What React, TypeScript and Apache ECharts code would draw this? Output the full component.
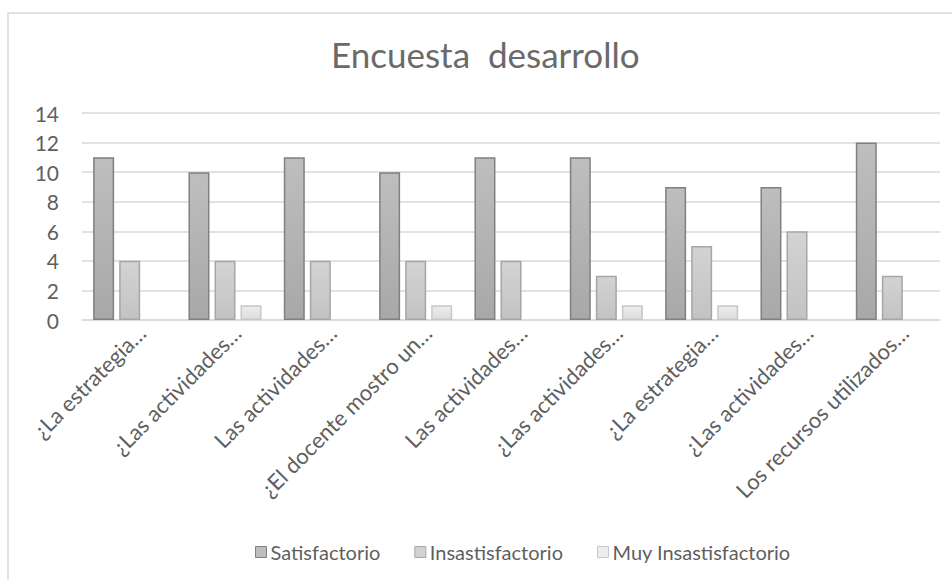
import React, { useEffect, useRef } from "react";
import * as echarts from "echarts";

const categories = [
  "¿La estrategia…",
  "¿Las actividades…",
  "Las actividades…",
  "¿El docente mostro un…",
  "Las actividades…",
  "¿Las actividades…",
  "¿La estrategia…",
  "¿Las actividades…",
  "Los recursos utilizados…",
];
const seriesNames = ["Satisfactorio", "Insastisfactorio", "Muy Insastisfactorio"];
const satisfactorio = [11, 10, 11, 10, 11, 11, 9, 9, 12];
const insatisfactorio = [4, 4, 4, 4, 4, 3, 5, 6, 3];
const muyInsatisfactorio: (number | null)[] = [null, 1, null, 1, null, 1, 1, null, null];
const yTicks = { min: 0, max: 14, interval: 2 };

const FONT = "Lato, 'Open Sans', sans-serif";
const TEXT = "#5f5f5f";

function grad(top: string, bottom: string) {
  return new echarts.graphic.LinearGradient(0, 0, 0, 1, [
    { offset: 0, color: top },
    { offset: 1, color: bottom },
  ]);
}

const styles = [
  { top: "#bebebe", bottom: "#a8a8a8", border: "#808080" },
  { top: "#d3d3d3", bottom: "#c3c3c3", border: "#a6a6a6" },
  { top: "#ececec", bottom: "#dedede", border: "#c8c8c8" },
];

export default function App() {
  const ref = useRef<HTMLDivElement>(null);
  useEffect(() => {
    if (!ref.current) return;
    const chart = echarts.init(ref.current, undefined, { renderer: "svg" });
    const data = [satisfactorio, insatisfactorio, muyInsatisfactorio];
    chart.setOption({
      animation: false,
      backgroundColor: "#ffffff",
      textStyle: { fontFamily: FONT, color: TEXT },
      title: {
        text: "Encuesta  desarrollo",
        left: 331,
        top: 36,
        padding: 0,
        textStyle: { fontFamily: FONT, fontSize: 35, fontWeight: "normal", color: "#6a6a6a" },
      },
      graphic: [
        {
          type: "rect",
          shape: { x: 8, y: 13, width: 960, height: 600 },
          style: { fill: "none", stroke: "#d9d9d9", lineWidth: 1.5 },
          silent: true,
        },
      ],
      legend: {
        top: 537,
        left: 250,
        icon: "rect",
        itemWidth: 11,
        itemHeight: 11,
        itemGap: 34,
        textStyle: { fontFamily: FONT, fontSize: 20, color: TEXT, padding: [0, 0, 0, -1] },
        data: seriesNames.map((n, i) => ({
          name: n,
          itemStyle: { color: styles[i].top, borderColor: styles[i].border, borderWidth: 1 },
        })),
      },
      grid: { left: 82, right: 12, top: 113, bottom: 260, containLabel: false },
      xAxis: {
        type: "category",
        data: categories,
        axisLine: { lineStyle: { color: "#d9d9d9", width: 1.5 } },
        axisTick: { show: false },
        axisLabel: {
          rotate: 45,
          interval: 0,
          fontFamily: FONT,
          fontSize: 22,
          color: TEXT,
          margin: -3,
          verticalAlign: "top",
          padding: [6, 0, 0, 0],
        },
      },
      yAxis: {
        type: "value",
        min: yTicks.min,
        max: yTicks.max,
        interval: yTicks.interval,
        axisLine: { show: false },
        axisTick: { show: false },
        splitLine: { lineStyle: { color: "#d9d9d9", width: 1.5 } },
        axisLabel: { fontFamily: FONT, fontSize: 21, color: TEXT, margin: 23 },
      },
      series: seriesNames.map((name, i) => ({
        name,
        type: "bar",
        data: data[i],
        barWidth: 21,
        barGap: "24%",
        itemStyle: {
          color: grad(styles[i].top, styles[i].bottom),
          borderColor: styles[i].border,
          borderWidth: 1.5,
        },
      })),
    });
    return () => chart.dispose();
  }, []);
  return (
    <div
      ref={ref}
      style={{ position: "absolute", left: 0, top: 0, width: 952, height: 580 }}
    />
  );
}
